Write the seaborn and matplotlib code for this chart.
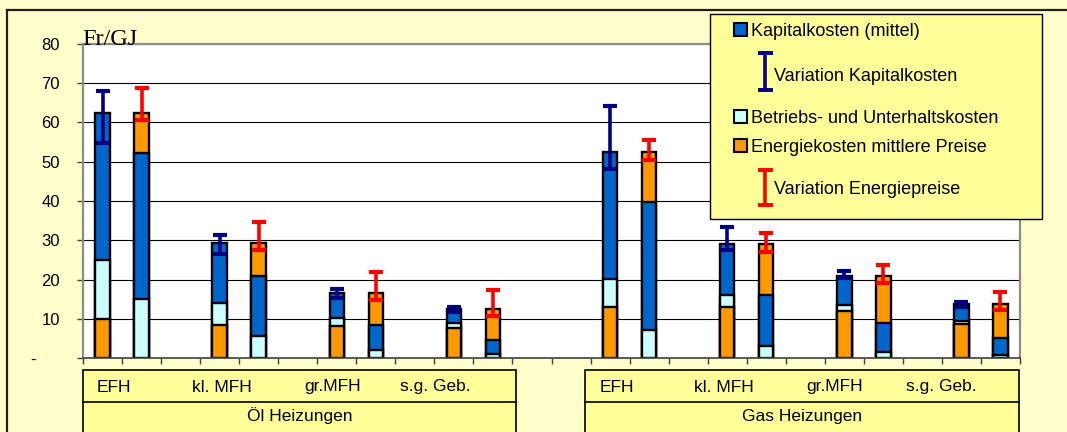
import numpy as np
import pandas as pd
import matplotlib
matplotlib.use("Agg")
import matplotlib.pyplot as plt
import seaborn as sns
from matplotlib.patches import Rectangle
from matplotlib.lines import Line2D

# ---------------------------------------------------------------- data
heating_groups = ["Öl Heizungen", "Gas Heizungen"]
building_types = ["EFH", "kl. MFH", "gr.MFH", "s.g. Geb."]
y_ticks = [0, 10, 20, 30, 40, 50, 60, 70, 80]
y_tick_labels = ["-     ", "10", "20", "30", "40", "50", "60", "70", "80"]
unit_label = "Fr/GJ"

# cost components in Fr/GJ
oel_energie = [10.0, 8.4, 8.1, 7.7]
oel_betrieb = [15.0, 5.6, 2.0, 1.1]
oel_kapital = [37.3, 15.4, 6.5, 3.6]
gas_energie = [12.9, 12.9, 12.1, 8.6]
gas_betrieb = [7.2, 3.1, 1.5, 0.7]
gas_kapital = [32.5, 13.0, 7.4, 4.4]

# range of total cost when capital cost varies
oel_kapital_min = [54.9, 26.6, 15.4, 11.8]
oel_kapital_max = [67.9, 31.4, 17.6, 13.1]
gas_kapital_min = [48.1, 27.4, 20.3, 13.0]
gas_kapital_max = [64.1, 33.5, 22.1, 14.2]
# range of total cost when energy prices vary
oel_energie_min = [60.6, 27.6, 14.9, 10.6]
oel_energie_max = [68.8, 34.6, 21.9, 17.4]
gas_energie_min = [50.4, 27.0, 19.0, 12.2]
gas_energie_max = [55.6, 31.8, 23.8, 16.9]

legend_labels = {
    "Kapital": "Kapitalkosten (mittel)",
    "Betrieb": "Betriebs- und Unterhaltskosten",
    "Energie": "Energiekosten mittlere Preise",
}
legend_range_labels = ["Variation Kapitalkosten", "Variation Energiepreise"]

# ---------------------------------------------------------------- style
palette = {"Kapital": "#0066CC", "Betrieb": "#CCFFFF", "Energie": "#FF9900"}
navy = "#000080"
red = "#FF0000"
fig_bg = "#FFFFCC"
box_bg = "#FFFF99"

plt.rcParams["font.family"] = ["Liberation Sans", "DejaVu Sans"]

W, H = 1067, 432


def fx(x):
    return x / W


def fy(y):
    return 1 - y / H


# ---------------------------------------------------------------- table of bar segments
groups = [
    (oel_energie, oel_betrieb, oel_kapital,
     oel_kapital_min, oel_kapital_max, oel_energie_min, oel_energie_max),
    (gas_energie, gas_betrieb, gas_kapital,
     gas_kapital_min, gas_kapital_max, gas_energie_min, gas_energie_max),
]

rows = []
kap_err = {"pos": [], "tot": [], "lo": [], "hi": []}
en_err = {"pos": [], "tot": [], "lo": [], "hi": []}
for g, (en, be, ka, kmin, kmax, emin, emax) in enumerate(groups):
    for i in range(len(building_types)):
        base = g * 13 + 3 * i
        stack_a = [("Energie", en[i]), ("Betrieb", be[i]), ("Kapital", ka[i])]
        stack_b = [("Betrieb", be[i]), ("Kapital", ka[i]), ("Energie", en[i])]
        for j, stack in enumerate((stack_a, stack_b)):
            cum = np.cumsum([v for _, v in stack])
            for level, ((comp, _), top) in enumerate(zip(stack, cum)):
                rows.append(dict(pos=base + j, level=level, component=comp, top=top))
        total = en[i] + be[i] + ka[i]
        kap_err["pos"].append(base)
        kap_err["tot"].append(total)
        kap_err["lo"].append(total - kmin[i])
        kap_err["hi"].append(kmax[i] - total)
        en_err["pos"].append(base + 1)
        en_err["tot"].append(total)
        en_err["lo"].append(total - emin[i])
        en_err["hi"].append(emax[i] - total)

df = pd.DataFrame(rows)

# ---------------------------------------------------------------- figure
fig = plt.figure(figsize=(W / 100, H / 100), dpi=100, facecolor=fig_bg)
ax = fig.add_axes([fx(83), fy(358), 937 / W, 314 / H])
ax.set_facecolor("white")

# stacked bars: draw the full stack first, then overlay the lower segments
for level in (2, 1, 0):
    sub = df[df["level"] == level]
    sns.barplot(data=sub, x="pos", y="top", hue="component", palette=palette,
                native_scale=True, dodge=False, width=0.37, saturation=1,
                edgecolor="black", linewidth=1.7, errorbar=None, legend=False,
                ax=ax)

ax.errorbar(kap_err["pos"], kap_err["tot"], yerr=[kap_err["lo"], kap_err["hi"]],
            fmt="none", ecolor=navy, elinewidth=2.6, capsize=5, capthick=3,
            zorder=5)
ax.errorbar(en_err["pos"], en_err["tot"], yerr=[en_err["lo"], en_err["hi"]],
            fmt="none", ecolor=red, elinewidth=2.6, capsize=5, capthick=3,
            zorder=5)

ax.set_xlim(-0.5, 23.5)
ax.set_ylim(0, 80)
ax.set_xlabel("")
ax.set_ylabel("")
ax.set_xticks(np.arange(-0.5, 24, 1))
ax.set_xticklabels([])
ax.set_yticks(y_ticks)
ax.set_yticklabels(y_tick_labels, fontsize=12)
ax.tick_params(axis="x", direction="out", length=4, width=1, color="#404040")
ax.tick_params(axis="y", direction="out", length=4.5, width=1, color="#404040",
               pad=12)
ax.yaxis.grid(True, color="black", linewidth=0.8)
ax.xaxis.grid(False)
ax.set_axisbelow(True)
for side in ("top", "right", "left"):
    ax.spines[side].set_color("#8C8C8C")
    ax.spines[side].set_linewidth(1.6)
ax.spines["bottom"].set_color("#404040")
ax.spines["bottom"].set_linewidth(1.2)

# unit label
fig.text(fx(82), fy(45), unit_label, family="Liberation Serif", fontsize=17.5,
         ha="left", va="baseline")

# outer frame
fig.add_artist(Line2D([fx(7), fx(7)], [fy(10), 0], color="#202020", lw=1.6))
fig.add_artist(Line2D([fx(7), 1], [fy(10), fy(10)], color="#202020", lw=1.6))

# category table under the bars
box_spans = [(83, 516), (585, 1019)]
type_x = [[114, 222, 333, 435], [617, 724, 835, 941]]
for (x0, x1), grp, xs in zip(box_spans, heating_groups, type_x):
    fig.add_artist(Rectangle((fx(x0), fy(440)), (x1 - x0) / W, 70 / H,
                             transform=fig.transFigure, facecolor=box_bg,
                             edgecolor="black", lw=1.2))
    fig.add_artist(Line2D([fx(x0), fx(x1)], [fy(402), fy(402)], color="black",
                          lw=1.2))
    for name, x in zip(building_types, xs):
        fig.text(fx(x), fy(391.5), name, fontsize=12.5, ha="center", va="baseline")
    fig.text(fx((x0 + x1) / 2), fy(421), grp, fontsize=12.5, ha="center",
             va="baseline")

# legend
fig.add_artist(Rectangle((fx(710), fy(219)), 332 / W, 205 / H,
                         transform=fig.transFigure, facecolor=box_bg,
                         edgecolor="black", lw=1.0))
for comp, base_y in (("Kapital", 35.7), ("Betrieb", 123.3), ("Energie", 151.7)):
    fig.add_artist(Rectangle((fx(734), fy(base_y)), 13 / W, 13 / H,
                             transform=fig.transFigure, facecolor=palette[comp],
                             edgecolor="black", lw=1.5))
    fig.text(fx(751), fy(base_y), legend_labels[comp], fontsize=13,
             ha="left", va="baseline")


def range_symbol(x, y_top, y_bot, color):
    fig.add_artist(Line2D([fx(x), fx(x)], [fy(y_top), fy(y_bot)], color=color,
                          lw=2.6, solid_capstyle="butt"))
    for y in (y_top, y_bot):
        fig.add_artist(Line2D([fx(x - 7.5), fx(x + 7.5)], [fy(y), fy(y)],
                              color=color, lw=2.8, solid_capstyle="butt"))


range_symbol(765, 53, 89.7, navy)
fig.text(fx(774), fy(80.7), legend_range_labels[0], fontsize=13, ha="left",
         va="baseline")
range_symbol(765, 169.5, 205, red)
fig.text(fx(774), fy(194), legend_range_labels[1], fontsize=13, ha="left",
         va="baseline")

fig.savefig("out.png", dpi=100, facecolor=fig.get_facecolor())
